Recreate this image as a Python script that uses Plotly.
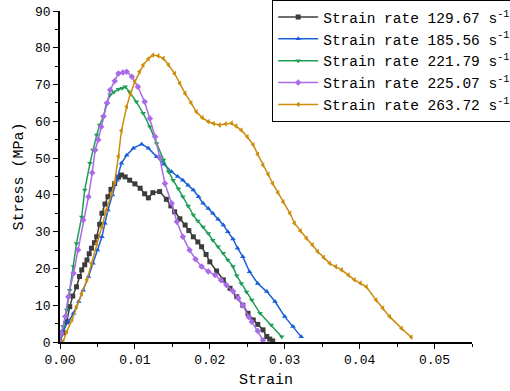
import plotly.graph_objects as go

black_x = [0.0000,0.0004,0.0009,0.0013,0.0017,0.0022,0.0026,0.0029,0.0033,0.0036,0.0039,0.0042,0.0046,0.0049,0.0053,0.0056,0.0060,0.0064,0.0068,0.0073,0.0078,0.0082,0.0087,0.0093,0.0100,0.0107,0.0113,0.0118,0.0124,0.0133,0.0142,0.0148,0.0153,0.0160,0.0167,0.0172,0.0178,0.0184,0.0189,0.0195,0.0200,0.0209,0.0218,0.0227,0.0236,0.0244,0.0251,0.0258,0.0264,0.0271,0.0276,0.0280,0.0284]
black_y = [0.0,2.5,5.5,9.6,12.5,15.0,17.8,19.6,21.0,22.3,24.0,25.5,27.0,28.6,32.0,35.0,37.5,39.5,41.5,43.1,44.8,45.4,44.9,44.0,43.0,41.8,40.3,39.2,40.6,40.9,38.8,37.0,35.4,33.5,31.8,30.3,28.6,27.2,25.9,23.8,21.8,19.3,16.9,14.6,12.3,10.0,7.8,6.0,4.8,3.3,1.5,0.8,0.3]

blue_x = [0.0000,0.0004,0.0011,0.0018,0.0025,0.0031,0.0038,0.0044,0.0050,0.0056,0.0060,0.0064,0.0070,0.0076,0.0082,0.0089,0.0098,0.0109,0.0118,0.0129,0.0139,0.0149,0.0157,0.0164,0.0171,0.0178,0.0185,0.0191,0.0198,0.0204,0.0211,0.0218,0.0224,0.0231,0.0237,0.0244,0.0253,0.0264,0.0276,0.0287,0.0300,0.0311,0.0322]
blue_y = [0.0,3.3,5.5,7.8,11.0,14.1,17.8,21.4,25.0,28.6,32.3,35.9,40.0,44.0,48.6,50.8,52.7,53.8,52.7,50.4,48.3,46.3,45.0,44.0,42.6,41.3,39.5,37.7,36.3,35.0,33.4,31.8,30.0,28.0,25.5,23.2,19.1,15.9,13.7,11.0,6.9,4.2,1.4]

green_x = [0.0000,0.0004,0.0009,0.0013,0.0018,0.0022,0.0029,0.0033,0.0040,0.0044,0.0049,0.0053,0.0058,0.0062,0.0067,0.0072,0.0078,0.0083,0.0087,0.0093,0.0102,0.0111,0.0120,0.0129,0.0138,0.0145,0.0151,0.0158,0.0164,0.0171,0.0178,0.0184,0.0191,0.0198,0.0204,0.0211,0.0218,0.0224,0.0231,0.0236,0.0242,0.0249,0.0256,0.0267,0.0282,0.0296]
green_y = [0.0,4.2,8.7,14.1,20.5,26.8,34.0,41.3,48.6,52.2,56.3,59.0,61.3,64.9,67.2,68.0,68.7,69.0,69.4,68.0,65.3,62.2,58.5,54.0,49.5,46.3,44.0,41.7,39.5,37.0,34.5,32.9,31.3,29.5,27.7,25.9,24.1,22.3,20.5,18.0,15.9,13.6,11.4,7.8,4.6,1.4]

purple_x = [0.0000,0.0002,0.0007,0.0011,0.0018,0.0024,0.0031,0.0038,0.0043,0.0047,0.0051,0.0055,0.0058,0.0063,0.0067,0.0073,0.0078,0.0084,0.0089,0.0096,0.0104,0.0113,0.0120,0.0127,0.0133,0.0140,0.0149,0.0156,0.0164,0.0173,0.0181,0.0189,0.0198,0.0207,0.0215,0.0222,0.0231,0.0238,0.0244,0.0252,0.0256,0.0264,0.0271]
purple_y = [0.0,2.4,6.9,12.3,18.7,25.0,33.2,39.5,46.0,52.2,55.0,58.5,61.3,65.0,68.5,71.0,73.0,73.3,73.5,72.1,69.4,65.3,60.8,55.8,50.2,43.1,37.7,32.7,28.6,25.0,22.5,20.5,19.2,18.2,16.8,15.5,13.8,11.9,10.0,6.8,5.5,3.0,0.5]

orange_x = [0.0004,0.0009,0.0016,0.0022,0.0029,0.0036,0.0042,0.0049,0.0056,0.0062,0.0069,0.0073,0.0078,0.0082,0.0089,0.0094,0.0100,0.0106,0.0111,0.0118,0.0124,0.0131,0.0138,0.0145,0.0153,0.0160,0.0167,0.0175,0.0182,0.0190,0.0198,0.0205,0.0213,0.0221,0.0229,0.0235,0.0242,0.0250,0.0258,0.0264,0.0271,0.0278,0.0284,0.0291,0.0298,0.0307,0.0313,0.0321,0.0329,0.0337,0.0344,0.0352,0.0360,0.0368,0.0376,0.0385,0.0393,0.0401,0.0409,0.0422,0.0431,0.0440,0.0456,0.0469]
orange_y = [0.0,2.8,6.0,9.6,13.2,16.9,21.4,26.8,31.3,35.9,40.4,43.5,50.5,57.5,64.0,67.5,70.8,73.5,75.3,77.0,78.0,77.8,77.1,75.3,73.0,70.3,67.6,65.0,62.6,61.0,59.9,59.4,59.0,59.3,59.5,58.7,57.6,55.8,53.6,51.0,48.1,45.6,43.1,40.6,38.1,35.0,32.3,30.2,28.2,26.4,24.6,23.0,21.4,20.5,19.6,18.2,16.9,16.0,15.0,11.4,9.2,6.9,3.7,1.3]

names = ["Strain rate 129.67 s<sup>-1</sup>", "Strain rate 185.56 s<sup>-1</sup>",
         "Strain rate 221.79 s<sup>-1</sup>", "Strain rate 225.07 s<sup>-1</sup>",
         "Strain rate 263.72 s<sup>-1</sup>"]
colors = ["#3c3c3c", "#1a5fd8", "#1f9e55", "#a96be8", "#cc8c0c"]
symbols = ["square", "triangle-up", "triangle-down", "diamond", "triangle-left"]
xs = [black_x, blue_x, green_x, purple_x, orange_x]
ys = [black_y, blue_y, green_y, purple_y, orange_y]

FONT = "Liberation Mono"
fig = go.Figure()
for n, c, s, x, y in zip(names, colors, symbols, xs, ys):
    fig.add_trace(go.Scatter(x=x, y=y, name=n, mode="lines+markers",
                             line=dict(color=c, width=1.5),
                             marker=dict(symbol=s, size=5, color=c)))

fig.update_layout(
    width=510, height=391,
    margin=dict(l=60, r=38, t=11, b=49, autoexpand=False),
    plot_bgcolor="white", paper_bgcolor="white",
    font=dict(family=FONT, color="black", size=13),
    legend=dict(x=0.515, y=1.033, xanchor="left", yanchor="top",
                bordercolor="black", borderwidth=1, bgcolor="white",
                font=dict(family=FONT, size=14.5), tracegroupgap=0,
                itemwidth=40),
    showlegend=True,
)
fig.update_xaxes(range=[0, 0.055], tickvals=[0, 0.01, 0.02, 0.03, 0.04, 0.05],
                 ticktext=["0.00", "0.01", "0.02", "0.03", "0.04", "0.05"],
                 showline=True, linecolor="black", linewidth=1.5, mirror=False,
                 ticks="outside", ticklen=5, tickwidth=1.2, tickcolor="black",
                 minor=dict(dtick=0.005, ticks="outside", ticklen=3, tickcolor="black", tickwidth=1.2),
                 showgrid=False, zeroline=False,
                 title=dict(text="Strain", font=dict(family=FONT, size=15), standoff=6))
fig.update_yaxes(range=[0, 90], dtick=10,
                 showline=True, linecolor="black", linewidth=1.5, mirror=False,
                 ticks="outside", ticklen=5, tickwidth=1.2, tickcolor="black",
                 minor=dict(dtick=5, ticks="outside", ticklen=3, tickcolor="black", tickwidth=1.2),
                 showgrid=False, zeroline=False,
                 title=dict(text="Stress (MPa)", font=dict(family=FONT, size=15), standoff=8))

fig.write_html("out.html", config={"displayModeBar": False},
               post_script="document.body.style.margin='0';")
